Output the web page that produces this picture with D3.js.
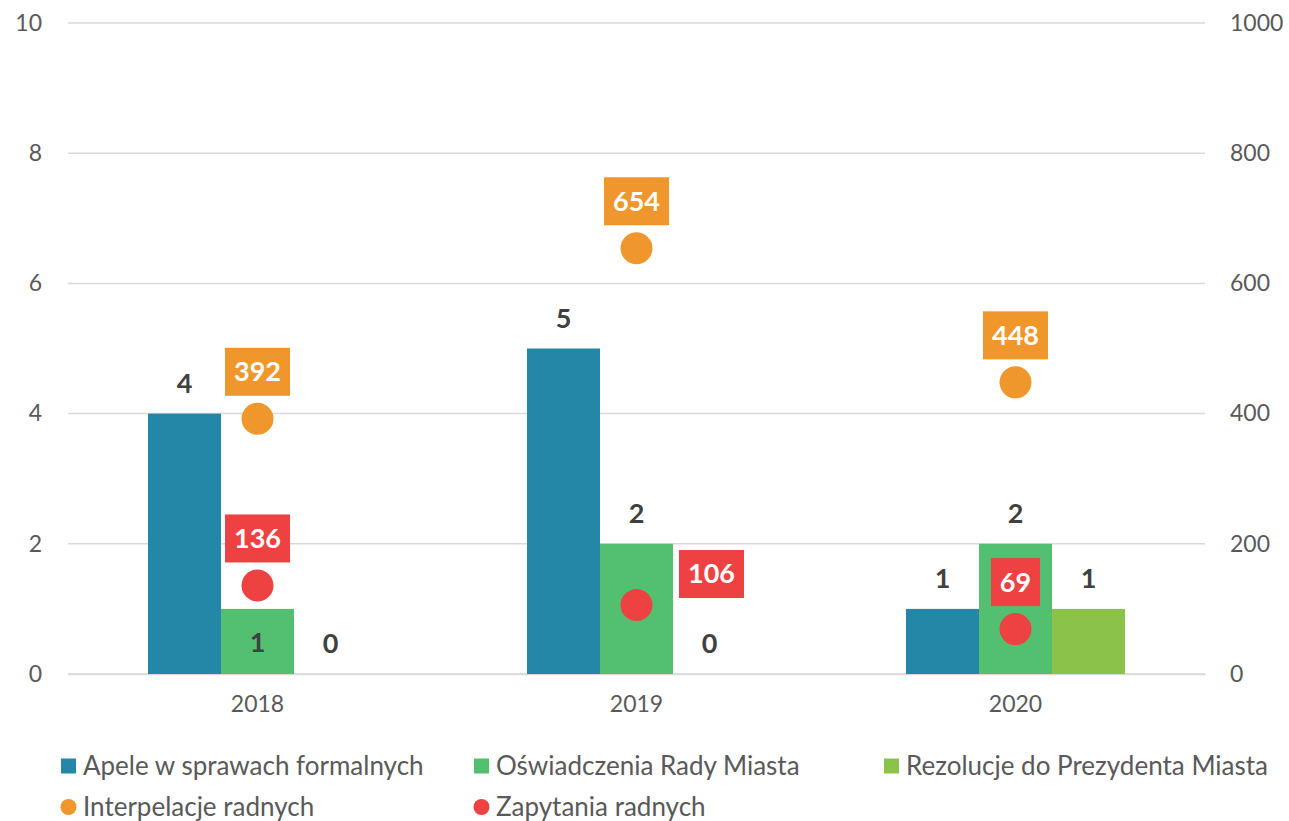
<!DOCTYPE html>
<html>
<head>
<meta charset="utf-8">
<script src="https://cdn.jsdelivr.net/npm/d3@7"></script>
<style>
  body { margin: 0; background: #fff; }
  text { font-family: Lato, "Open Sans", sans-serif; }
</style>
</head>
<body>
<div id="chart"></div>
<script>
const years = ['2018', '2019', '2020'];
const barSeries = ['Apele w sprawach formalnych', 'Oświadczenia Rady Miasta', 'Rezolucje do Prezydenta Miasta'];
const apele = [4, 5, 1];
const oswiadczenia = [1, 2, 2];
const rezolucje = [0, 0, 1];
const interpelacje = [392, 654, 448];
const zapytania = [136, 106, 69];
const leftTicks = [0, 2, 4, 6, 8, 10];
const rightTicks = [0, 200, 400, 600, 800, 1000];

const barColors = ['#2587a8', '#53bf70', '#8bc34a'];
const orange = '#ef972c';
const red = '#ee4242';

const width = 1289, height = 821;
const margin = { top: 23, right: 84, bottom: 147, left: 68 };

const svg = d3.select('#chart').append('svg')
  .attr('width', width)
  .attr('height', height);

const x0 = d3.scaleBand()
  .domain(years)
  .range([margin.left, width - margin.right])
  .padding(0);

const x1 = d3.scaleBand()
  .domain(d3.range(3))
  .range([80, x0.bandwidth() - 80]);

const yLeft = d3.scaleLinear().domain([0, 10]).range([height - margin.bottom, margin.top]);
const yRight = d3.scaleLinear().domain([0, 1000]).range([height - margin.bottom, margin.top]);

// gridlines
svg.append('g')
  .selectAll('line')
  .data(leftTicks)
  .enter()
  .append('line')
  .attr('x1', margin.left)
  .attr('x2', width - margin.right)
  .attr('y1', d => yLeft(d))
  .attr('y2', d => yLeft(d))
  .attr('stroke', '#d9d9d9')
  .attr('stroke-width', 1.5);

// left axis
const leftAxis = svg.append('g')
  .attr('transform', `translate(${margin.left}, 0)`)
  .call(d3.axisLeft(yLeft).tickValues(leftTicks).tickSize(0).tickPadding(26));
leftAxis.select('.domain').remove();
leftAxis.selectAll('text').attr('font-size', 23).attr('fill', '#595959').attr('font-family', 'Lato');

// right axis
const rightAxis = svg.append('g')
  .attr('transform', `translate(${width - margin.right}, 0)`)
  .call(d3.axisRight(yRight).tickValues(rightTicks).tickFormat(d3.format('d')).tickSize(0).tickPadding(25));
rightAxis.select('.domain').remove();
rightAxis.selectAll('text').attr('font-size', 23).attr('fill', '#595959').attr('font-family', 'Lato');

// bottom axis
const bottomAxis = svg.append('g')
  .attr('transform', `translate(0, ${height - margin.bottom})`)
  .call(d3.axisBottom(x0).tickSize(0).tickPadding(22));
bottomAxis.select('.domain').attr('stroke', '#d9d9d9').attr('stroke-width', 1.5);
bottomAxis.selectAll('text').attr('font-size', 23).attr('fill', '#595959').attr('font-family', 'Lato');

const barData = [];
years.forEach((yr, i) => {
  [apele, oswiadczenia, rezolucje].forEach((arr, s) => {
    barData.push({ year: yr, s: s, value: arr[i] });
  });
});

const groups = svg.append('g');

groups.selectAll('rect')
  .data(barData)
  .enter()
  .append('rect')
  .attr('x', d => x0(d.year) + x1(d.s))
  .attr('y', d => yLeft(d.value))
  .attr('width', x1.bandwidth())
  .attr('height', d => yLeft(0) - yLeft(d.value))
  .attr('fill', d => barColors[d.s]);

// bar labels (2018 Oświadczenia label was moved down inside the bar)
groups.selectAll('text.bl')
  .data(barData)
  .enter()
  .append('text')
  .attr('class', 'bl')
  .attr('x', d => x0(d.year) + x1(d.s) + x1.bandwidth() / 2)
  .attr('y', d => (d.year === '2018' && d.s === 1) ? yLeft(0) - 31 : yLeft(d.value) - 30)
  .attr('dy', '0.35em')
  .attr('text-anchor', 'middle')
  .attr('font-size', 27)
  .attr('font-weight', 'bold')
  .attr('fill', '#404040')
  .text(d => d.value);

// scatter points
const pointData = [];
years.forEach((yr, i) => {
  pointData.push({ year: yr, value: interpelacje[i], color: orange, kind: 'i' });
  pointData.push({ year: yr, value: zapytania[i], color: red, kind: 'z' });
});

const pts = svg.append('g');
pts.selectAll('circle')
  .data(pointData)
  .enter()
  .append('circle')
  .attr('cx', d => x0(d.year) + x0.bandwidth() / 2)
  .attr('cy', d => yRight(d.value))
  .attr('r', 16)
  .attr('fill', d => d.color);

const labelPos = d => {
  const cx = x0(d.year) + x0.bandwidth() / 2;
  const cy = yRight(d.value);
  if (d.kind === 'z' && d.year === '2019') return [cx + 75, cy - 31];
  return [cx, cy - 47];
};

const lab = pts.selectAll('g.lab')
  .data(pointData)
  .enter()
  .append('g')
  .attr('class', 'lab')
  .attr('transform', d => `translate(${labelPos(d)[0]}, ${labelPos(d)[1]})`);

lab.append('rect')
  .attr('x', d => String(d.value).length === 3 ? -32.5 : -24.5)
  .attr('y', -24)
  .attr('width', d => String(d.value).length === 3 ? 65 : 49)
  .attr('height', 48)
  .attr('fill', d => d.color);

lab.append('text')
  .attr('text-anchor', 'middle')
  .attr('dy', '0.35em')
  .attr('font-size', 27)
  .attr('font-weight', 'bold')
  .attr('fill', '#fff')
  .text(d => d.value);

// legend
const legendItems = [
  { name: barSeries[0], color: barColors[0], shape: 'rect', x: 61, y: 766 },
  { name: barSeries[1], color: barColors[1], shape: 'rect', x: 474, y: 766 },
  { name: barSeries[2], color: barColors[2], shape: 'rect', x: 884, y: 766 },
  { name: 'Interpelacje radnych', color: orange, shape: 'circle', x: 61, y: 807 },
  { name: 'Zapytania radnych', color: red, shape: 'circle', x: 474, y: 807 }
];

const leg = svg.append('g')
  .selectAll('g')
  .data(legendItems)
  .enter()
  .append('g')
  .attr('transform', d => `translate(${d.x}, ${d.y})`);

leg.filter(d => d.shape === 'rect')
  .append('rect')
  .attr('x', 0).attr('y', -7.5)
  .attr('width', 15).attr('height', 15)
  .attr('fill', d => d.color);

leg.filter(d => d.shape === 'circle')
  .append('circle')
  .attr('cx', 7.5).attr('cy', 0).attr('r', 8)
  .attr('fill', d => d.color);

leg.append('text')
  .attr('x', 22)
  .attr('dy', '0.35em')
  .attr('font-size', 26)
  .attr('fill', '#595959')
  .text(d => d.name);
</script>
</body>
</html>
